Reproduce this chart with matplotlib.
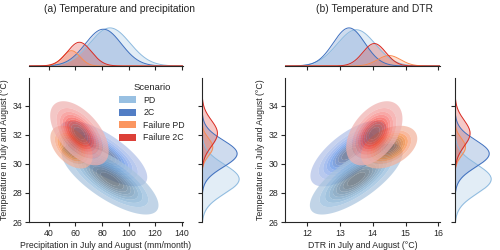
import numpy as np
import matplotlib
matplotlib.use("Agg")
import matplotlib.pyplot as plt
from matplotlib.patches import Patch
from matplotlib.colors import ListedColormap, to_rgba
from seaborn.external import husl

plt.rcParams['font.family'] = ['Liberation Sans', 'DejaVu Sans']
plt.rcParams['font.size'] = 6.3
plt.rcParams['axes.edgecolor'] = '0.15'
plt.rcParams['text.color'] = '0.15'
plt.rcParams['xtick.color'] = '0.15'
plt.rcParams['ytick.color'] = '0.15'
plt.rcParams['axes.labelcolor'] = '0.15'

# scenarios (hue order) and colours
scenarios = ['PD', '2C', 'Failure PD', 'Failure 2C']
colors = ['#8dbadf', '#3f70bf', '#fb8b4f', '#d92b22']
weights = [1.15, 1.0, 0.2, 0.43]   # relative group sizes (marginals, common norm)
draw_order = [1, 0, 2, 3]          # order of the filled joint contours

# temperature distribution (shared y) : mean, sd
t_mean = [28.95, 30.7, 31.15, 32.1]
t_sd = [1.0, 0.92, 0.6, 0.9]

# panel (a): precipitation mean, sd, correlation with temperature
pr_mean = [86, 81, 57, 63]
pr_sd = [15, 13.5, 6.5, 9]
pr_r = [-0.74, -0.72, -0.45, -0.55]

# panel (b): DTR mean, sd, correlation with temperature
dtr_mean = [13.5, 13.28, 14.5, 14.05]
dtr_sd = [0.58, 0.48, 0.35, 0.35]
dtr_r = [0.74, 0.68, 0.4, 0.45]

t_ticks = [26, 28, 30, 32, 34]
t_lim = (26, 35.9)
pr_ticks = [40, 60, 80, 100, 120, 140]
pr_lim = (25, 141)
dtr_ticks = [12, 13, 14, 15, 16]
dtr_lim = (11.33, 16.05)


def cmap_from_color(color):
    r, g, b, _ = to_rgba(color)
    h, s, _ = husl.rgb_to_husl(r, g, b)
    xx = np.linspace(-1, 1, int(1.15 * 256))[:256]
    ramp = np.zeros((256, 3))
    ramp[:, 0] = h
    ramp[:, 1] = s * np.cos(xx)
    ramp[:, 2] = np.linspace(35, 80, 256)
    cols = np.clip([husl.husl_to_rgb(*hsl) for hsl in ramp], 0, 1)
    return ListedColormap(cols[::-1])


def gauss2d(X, Y, mx, my, sx, sy, r):
    zx = (X - mx) / sx
    zy = (Y - my) / sy
    q = (zx ** 2 - 2 * r * zx * zy + zy ** 2) / (1 - r ** 2)
    return np.exp(-q / 2) / (2 * np.pi * sx * sy * np.sqrt(1 - r ** 2))


def gauss1d(x, m, s):
    return np.exp(-0.5 * ((x - m) / s) ** 2) / (s * np.sqrt(2 * np.pi))


def quantile_to_level(data, quantile):
    values = np.ravel(data)
    sorted_values = np.sort(values)[::-1]
    normalized = np.cumsum(sorted_values) / values.sum()
    idx = np.searchsorted(normalized, 1 - np.asarray(quantile))
    return np.take(sorted_values, idx, mode="clip")


def joint_panel(ax, axx, axy, xm, xs, xr, xlim, xticks, xlabel):
    xg = np.linspace(xlim[0], xlim[1], 300)
    yg = np.linspace(t_lim[0], t_lim[1], 300)
    X, Y = np.meshgrid(xg, yg)
    for i in draw_order:
        d = gauss2d(X, Y, xm[i], t_mean[i], xs[i], t_sd[i], xr[i])
        levels = quantile_to_level(d, np.linspace(0.05, 1, 10))
        ax.contourf(X, Y, d, levels=levels, cmap=cmap_from_color(colors[i]),
                    alpha=0.7, antialiased=True)
    ax.set_xlim(xlim)
    ax.set_ylim(t_lim)
    ax.set_xticks(xticks)
    ax.set_yticks(t_ticks)
    ax.set_xlabel(xlabel, labelpad=2)
    ax.set_ylabel('Temperature in July and August (°C)', labelpad=2)
    for s in ['top', 'right']:
        ax.spines[s].set_visible(False)

    # marginals
    mx_max = 0
    for i in range(len(scenarios)):
        w = weights[i] / sum(weights)
        d = w * gauss1d(xg, xm[i], xs[i])
        mx_max = max(mx_max, d.max())
        axx.fill_between(xg, 0, d, color=colors[i], alpha=0.25, lw=0)
        axx.plot(xg, d, color=colors[i], lw=0.7)
    axx.set_xlim(xlim)
    axx.set_ylim(0, mx_max * 1.05)
    axx.set_xticks(xticks)
    axx.set_xticklabels([])
    axx.set_yticks([])
    for s in ['top', 'right', 'left']:
        axx.spines[s].set_visible(False)

    my_max = 0
    for i in range(len(scenarios)):
        w = weights[i] / sum(weights)
        d = w * gauss1d(yg, t_mean[i], t_sd[i])
        my_max = max(my_max, d.max())
        axy.fill_betweenx(yg, 0, d, color=colors[i], alpha=0.25, lw=0)
        axy.plot(d, yg, color=colors[i], lw=0.7)
    axy.set_ylim(t_lim)
    axy.set_xlim(0, my_max * 1.05)
    axy.set_yticks(t_ticks)
    axy.set_yticklabels([])
    axy.set_xticks([])
    for s in ['top', 'right', 'bottom']:
        axy.spines[s].set_visible(False)

    for a in (ax, axx, axy):
        a.tick_params(length=3, width=0.8, pad=2, labelsize=6.3)
        for s in a.spines.values():
            s.set_linewidth(0.8)


fig = plt.figure(figsize=(5, 2.5), dpi=100)

ax_a = fig.add_axes([0.058, 0.112, 0.308, 0.576])
axx_a = fig.add_axes([0.058, 0.736, 0.308, 0.16])
axy_a = fig.add_axes([0.404, 0.112, 0.078, 0.576])
joint_panel(ax_a, axx_a, axy_a, pr_mean, pr_sd, pr_r, pr_lim, pr_ticks,
            'Precipitation in July and August (mm/month)')

ax_b = fig.add_axes([0.57, 0.112, 0.31, 0.576])
axx_b = fig.add_axes([0.57, 0.736, 0.31, 0.16])
axy_b = fig.add_axes([0.91, 0.112, 0.076, 0.576])
joint_panel(ax_b, axx_b, axy_b, dtr_mean, dtr_sd, dtr_r, dtr_lim, dtr_ticks,
            'DTR in July and August (°C)')

handles = [Patch(facecolor=c, edgecolor='none', alpha=0.9) for c in colors]
ax_a.legend(handles, scenarios, title='Scenario', loc='upper left',
            bbox_to_anchor=(0.55, 1.0), frameon=False, fontsize=6.3,
            title_fontsize=6.8, handlelength=2.0, handleheight=0.9,
            labelspacing=0.4, borderaxespad=0.2)

fig.text(0.24, 0.962, '(a) Temperature and precipitation', ha='center', va='center', fontsize=7.4)
fig.text(0.75, 0.962, '(b) Temperature and DTR', ha='center', va='center', fontsize=7.4)

fig.savefig('out.png', dpi=100)
